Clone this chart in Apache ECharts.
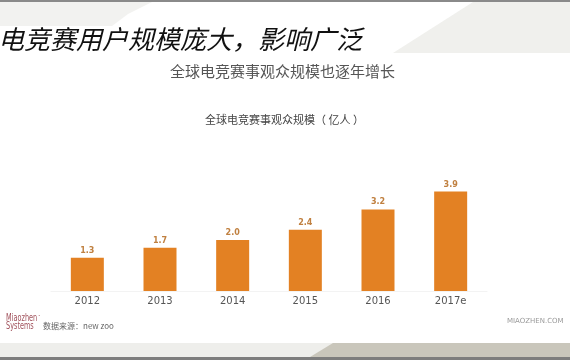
<!DOCTYPE html>
<html>
<head>
<meta charset="utf-8">
<script src="https://cdn.jsdelivr.net/npm/echarts@6/dist/echarts.min.js"></script>
<style>
html,body{margin:0;padding:0;background:#fff;}
#c{width:570px;height:360px;}
</style>
</head>
<body>
<div id="c"></div>
<script>
var categories = ['2012', '2013', '2014', '2015', '2016', '2017e'];
var viewers = [1.3, 1.7, 2.0, 2.4, 3.2, 3.9];
var valueLabels = ['1.3', '1.7', '2.0', '2.4', '3.2', '3.9'];

var slideTitle = '电竞赛用户规模庞大，影响广泛';
var slideSubtitle = '全球电竞赛事观众规模也逐年增长';
var chartTitle = '全球电竞赛事观众规模（ 亿人 ）';
var sourceText = '数据来源：new zoo';
var siteText = 'MIAOZHEN.COM';

var cjk = '"Noto Sans CJK SC", "Noto Sans", sans-serif';
var chart = echarts.init(document.getElementById('c'));
chart.setOption({
  backgroundColor: '#ffffff',
  animation: false,
  grid: {left: 51, width: 436, top: 189, height: 102},
  xAxis: {
    type: 'category',
    data: categories,
    axisLine: {show: true, lineStyle: {color: '#f3f3f3', width: 1}},
    axisTick: {show: false},
    axisLabel: {color: '#555555', fontSize: 10, margin: 5, fontFamily: 'DejaVu Sans'}
  },
  yAxis: {
    type: 'value', min: 0, max: 4, interval: 1,
    show: false,
    splitLine: {show: false}
  },
  series: [{
    type: 'bar',
    data: viewers,
    barWidth: 33,
    itemStyle: {color: '#e38123'},
    label: {
      show: true, position: 'top', distance: 3,
      formatter: function (p) { return valueLabels[p.dataIndex]; },
      color: '#c08040', fontSize: 8, fontWeight: 'bold', fontFamily: 'DejaVu Sans'
    }
  }],
  graphic: [
    {type: 'polygon', silent: true, z: -10, shape: {points: [[0,2],[152,2],[128,14],[112,26],[0,26]]}, style: {fill: '#f2f2f0'}},
    {type: 'polygon', silent: true, z: -10, shape: {points: [[473,2],[570,2],[570,53],[393,53]]}, style: {fill: '#f0f0ed'}},
    {type: 'rect', silent: true, z: -5, shape: {x: 0, y: 0, width: 570, height: 2}, style: {fill: '#8a8a8a'}},
    {type: 'rect', silent: true, z: -10, shape: {x: 0, y: 343, width: 570, height: 14}, style: {fill: '#eeeeeb'}},
    {type: 'polygon', silent: true, z: -9, shape: {points: [[333,343],[570,343],[570,357],[310,357]]}, style: {fill: '#c9c6bb'}},
    {type: 'rect', silent: true, z: -5, shape: {x: 0, y: 357, width: 570, height: 3}, style: {fill: '#7d7d7d'}},
    {type: 'text', left: -2, top: 26, style: {text: slideTitle, fill: '#111111', font: 'italic 26px ' + cjk}},
    {type: 'text', left: 170, top: 64, style: {text: slideSubtitle, fill: '#555555', font: '15px ' + cjk}},
    {type: 'text', left: 205, top: 114, style: {text: chartTitle, fill: '#444444', font: '11px ' + cjk}},
    {type: 'text', x: 6, y: 313, scaleX: 0.66, style: {text: 'Miaozhen', fill: '#a0505a', font: '11px "DejaVu Sans Condensed", "Liberation Sans", sans-serif'}},
    {type: 'text', x: 38, y: 313, style: {text: '·', fill: '#a0505a', font: '7px sans-serif'}},
    {type: 'text', x: 6, y: 321, scaleX: 0.66, style: {text: 'Systems', fill: '#a0505a', font: '11px "DejaVu Sans Condensed", "Liberation Sans", sans-serif'}},
    {type: 'text', left: 43, top: 322, style: {text: sourceText, fill: '#666666', font: '8px ' + cjk}},
    {type: 'text', left: 507, top: 318, style: {text: siteText, fill: '#9a9a9a', font: '7px "DejaVu Sans", sans-serif'}}
  ]
});
</script>
</body>
</html>
